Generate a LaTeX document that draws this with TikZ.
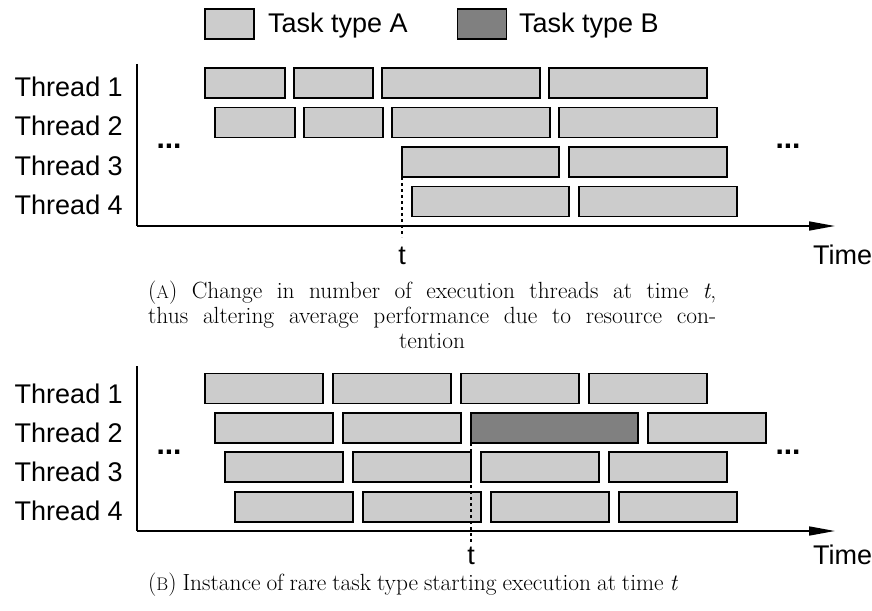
\documentclass[tikz,border=0pt]{standalone}
\usepackage{fontspec}
\setmainfont{Latin Modern Roman}
\newfontfamily\sansf{Liberation Sans}
\newfontfamily\captf{Latin Modern Roman}[Scale=1.3]
\usetikzlibrary{arrows.meta}
\definecolor{lightg}{HTML}{CCCCCC}
\definecolor{darkg}{HTML}{808080}
\tikzset{
  taskA/.style={draw=black, fill=lightg, line width=1.6pt, inner sep=0pt, outer sep=0pt, minimum height=30pt},
  taskB/.style={taskA, fill=darkg},
  lbl/.style={font=\sansf\fontsize{27}{32}\selectfont, inner sep=0pt},
  dotsl/.style={font=\sansf\bfseries\fontsize{30}{32}\selectfont, inner sep=0pt},
  axis/.style={line width=1.6pt},
  timearrow/.style={axis, -{Triangle[length=26pt,width=9pt]}},
  tline/.style={line width=1.6pt, dash pattern=on 3pt off 3pt},
  capt/.style={font=\captf\fontsize{18}{25}\selectfont, inner sep=0pt, anchor=base west},
}
\newcommand\fsc[1]{{\fontsize{14}{16}\selectfont #1}}
% #1 style, #2 name, #3 left, #4 right, #5 centre y
\newcommand\tbox[5]{\node[#1, minimum width={(#4-#3)*1pt}] (#2) at ({(#3+#4)/2},#5) {};}
\begin{document}
\begin{tikzpicture}[x=1pt,y=-1pt]
\useasboundingbox (0,0) rectangle (872,610);

% legend
\node[taskA, minimum width=49pt] (legA) at (229.5,24) {};
\node[lbl, anchor=base west] (legAt) at (268,33) {Task type A};
\node[taskB, minimum width=49pt] (legB) at (482,24) {};
\node[lbl, anchor=base west] (legBt) at (519,33) {Task type B};

% ---------------- chart A ----------------
\coordinate (oA) at (137,226);
\coordinate (topA) at (137,64);
\coordinate (endA) at (835,226);
\draw[axis] (topA) -- (oA);
\draw[timearrow] (oA) -- (endA);

\node[lbl, anchor=base east] (a1l) at (123,96) {Thread 1};
\node[lbl, anchor=base east] (a2l) at (123,135) {Thread 2};
\node[lbl, anchor=base east] (a3l) at (123,175) {Thread 3};
\node[lbl, anchor=base east] (a4l) at (123,214) {Thread 4};

\tbox{taskA}{a11}{205}{285}{83}
\tbox{taskA}{a12}{294}{373}{83}
\tbox{taskA}{a13}{382}{540}{83}
\tbox{taskA}{a14}{549}{707}{83}

\tbox{taskA}{a21}{215}{295}{122.5}
\tbox{taskA}{a22}{304}{383}{122.5}
\tbox{taskA}{a23}{392}{550}{122.5}
\tbox{taskA}{a24}{559}{717}{122.5}

\tbox{taskA}{a31}{402}{559}{162}
\tbox{taskA}{a32}{569}{727}{162}

\tbox{taskA}{a41}{412}{569}{201.5}
\tbox{taskA}{a42}{579}{737}{201.5}

\node[dotsl, anchor=base] (adl) at (169,148) {...};
\node[dotsl, anchor=base] (adr) at (788,148) {...};

\coordinate (tAend) at (402,237);
\draw[tline] (a31.south west) -- (tAend);
\node[lbl, anchor=base] (tA) at (402,264) {t};
\node[lbl, anchor=base west] (timeA) at (813,264) {Time};

\node[capt] (capA1) at (148,298) {\makebox[568pt][s]{(\fsc{A}) Change in number of execution threads at time \textit{t},}};
\node[capt] (capA2) at (148,323) {\makebox[568pt][s]{thus altering average performance due to resource con-}};
\node[capt, anchor=base] (capA3) at (432,348) {tention};

% ---------------- chart B ----------------
\coordinate (oB) at (137,531);
\coordinate (topB) at (137,366);
\coordinate (endB) at (835,531);
\draw[axis] (topB) -- (oB);
\draw[timearrow] (oB) -- (endB);

\node[lbl, anchor=base east] (b1l) at (123,403) {Thread 1};
\node[lbl, anchor=base east] (b2l) at (123,442) {Thread 2};
\node[lbl, anchor=base east] (b3l) at (123,481) {Thread 3};
\node[lbl, anchor=base east] (b4l) at (123,520) {Thread 4};

\tbox{taskA}{b11}{205}{323}{388.5}
\tbox{taskA}{b12}{333}{451}{388.5}
\tbox{taskA}{b13}{461}{579}{388.5}
\tbox{taskA}{b14}{589}{707}{388.5}

\tbox{taskA}{b21}{215}{333}{428}
\tbox{taskA}{b22}{343}{461}{428}
\tbox{taskB}{b23}{471}{638}{428}
\tbox{taskA}{b24}{648}{766}{428}

\tbox{taskA}{b31}{225}{343}{467}
\tbox{taskA}{b32}{353}{471}{467}
\tbox{taskA}{b33}{481}{599}{467}
\tbox{taskA}{b34}{609}{727}{467}

\tbox{taskA}{b41}{235}{353}{507}
\tbox{taskA}{b42}{363}{481}{507}
\tbox{taskA}{b43}{491}{609}{507}
\tbox{taskA}{b44}{619}{737}{507}

\node[dotsl, anchor=base] (bdl) at (169,454) {...};
\node[dotsl, anchor=base] (bdr) at (788,454) {...};

\coordinate (tBend) at (471,542);
\draw[tline] (b23.south west) -- (tBend);
\node[lbl, anchor=base] (tB) at (471,564) {t};
\node[lbl, anchor=base west] (timeB) at (813,564) {Time};

\node[capt] (capB) at (148,590) {\makebox[530pt][s]{(\fsc{B}) Instance of rare task type starting execution at time \textit{t}}};
\end{tikzpicture}
\end{document}
